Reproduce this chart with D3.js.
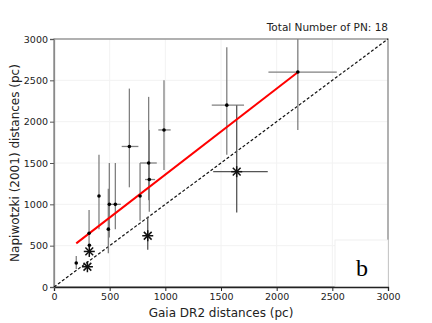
<!DOCTYPE html>
<html>
<head>
  <meta charset="utf-8">
  <title>Gaia vs Napiwotzki</title>
  <script src="https://d3js.org/d3.v7.min.js"></script>
  <style>
    body { margin: 0; background: #fff; }
    svg { display: block; font-family: "DejaVu Sans", sans-serif; }
    .err { stroke: #808080; stroke-width: 1.3px; }
  </style>
</head>
<body>
<svg width="432" height="323"></svg>
<script>
  // points with error bars: gaia, napi, x-range, y-range
  const gaia   = [200, 315, 318, 404, 497, 551, 488, 677, 773, 850, 856, 988, 1552, 2190];
  const napi   = [290, 650, 505, 1100, 1000, 1000, 700, 1700, 1100, 1500, 1300, 1900, 2200, 2600];
  const xLow   = [200, 315, 318, 404, 497, 497, 488, 608, 773, 773, 818, 937, 1417, 1926];
  const xHigh  = [200, 315, 318, 404, 497, 600, 488, 758, 773, 923, 908, 1048, 1707, 2540];
  const yLow   = [218, 490, 505, 700, 600, 700, 408, 1206, 800, 1050, 910, 1415, 1600, 1900];
  const yHigh  = [375, 930, 505, 1600, 1500, 1500, 1190, 2400, 1500, 2300, 1900, 2500, 2900, 3000];

  // asterisk objects
  const starGaia  = [300, 317, 842, 1641];
  const starNapi  = [245, 430, 620, 1395];
  const starXLow  = [300, 317, 842, 1430];
  const starXHigh = [300, 317, 842, 1920];
  const starYLow  = [245, 430, 450, 900];
  const starYHigh = [245, 430, 850, 2200];

  const ticks = [0, 500, 1000, 1500, 2000, 2500, 3000];
  const fitX = [200, 2190];
  const slope = 1.04, intercept = 320;

  const svg = d3.select('svg');
  const mLeft = 54, mRight = 388, mTop = 39, mBottom = 287;

  const x = d3.scaleLinear().domain([0, 3000]).range([mLeft, mRight]);
  const y = d3.scaleLinear().domain([0, 3000]).range([mBottom, mTop]);

  // faint grid
  const grid = svg.append('g');
  grid.selectAll('.gx').data(ticks).enter().append('line')
    .attr('x1', d => x(d)).attr('x2', d => x(d))
    .attr('y1', mTop).attr('y2', mBottom)
    .attr('stroke', '#f2f2f2');
  grid.selectAll('.gy').data(ticks).enter().append('line')
    .attr('y1', d => y(d)).attr('y2', d => y(d))
    .attr('x1', mLeft).attr('x2', mRight)
    .attr('stroke', '#f2f2f2');

  // frame (gray top/right/left)
  svg.append('rect')
    .attr('x', mLeft).attr('y', mTop)
    .attr('width', mRight - mLeft).attr('height', mBottom - mTop)
    .attr('fill', 'none').attr('stroke', '#8a8a8a').attr('stroke-width', 1.3);

  // box around panel letter
  svg.append('rect')
    .attr('x', 335).attr('y', 240).attr('width', mRight - 335).attr('height', mBottom - 240)
    .attr('fill', '#fff').attr('stroke', '#ececec').attr('stroke-width', 0.8);

  svg.append('text')
    .attr('x', 362).attr('y', 276)
    .attr('text-anchor', 'middle')
    .attr('font-family', '"Liberation Serif", "DejaVu Serif", serif')
    .attr('font-size', 24)
    .text('b');

  // axes
  const xAxis = svg.append('g')
    .attr('transform', `translate(0,${mBottom})`)
    .call(d3.axisBottom(x).tickValues(ticks).tickSize(4).tickPadding(2).tickFormat(d3.format('d')));
  xAxis.select('.domain').attr('stroke', '#222').attr('stroke-width', 1.3);
  xAxis.selectAll('text').attr('font-size', 9.5).attr('fill', '#222').attr('font-family', '"DejaVu Sans", sans-serif');
  xAxis.selectAll('line').attr('stroke', '#222');

  const yAxis = svg.append('g')
    .attr('transform', `translate(${mLeft},0)`)
    .call(d3.axisLeft(y).tickValues(ticks).tickSize(4).tickPadding(2).tickFormat(d3.format('d')));
  yAxis.select('.domain').attr('stroke', '#8a8a8a').attr('stroke-width', 1.3);
  yAxis.selectAll('text').attr('font-size', 9.5).attr('fill', '#222').attr('font-family', '"DejaVu Sans", sans-serif');
  yAxis.selectAll('line').attr('stroke', '#555');

  // one-to-one line
  svg.append('line')
    .attr('x1', x(0)).attr('y1', y(0))
    .attr('x2', x(3000)).attr('y2', y(3000))
    .attr('stroke', '#111').attr('stroke-width', 1.2)
    .attr('stroke-dasharray', '3,2');

  // error bars
  const eb = svg.append('g');
  gaia.forEach((g, i) => {
    eb.append('line').attr('class', 'err')
      .attr('x1', x(g)).attr('x2', x(g))
      .attr('y1', y(yLow[i])).attr('y2', y(yHigh[i]));
    eb.append('line').attr('class', 'err')
      .attr('x1', x(xLow[i])).attr('x2', x(xHigh[i]))
      .attr('y1', y(napi[i])).attr('y2', y(napi[i]));
  });
  starGaia.forEach((g, i) => {
    eb.append('line').attr('class', 'err').style('stroke', '#555')
      .attr('x1', x(g)).attr('x2', x(g))
      .attr('y1', y(starYLow[i])).attr('y2', y(starYHigh[i]));
    eb.append('line').attr('class', 'err').style('stroke', '#555')
      .attr('x1', x(starXLow[i])).attr('x2', x(starXHigh[i]))
      .attr('y1', y(starNapi[i])).attr('y2', y(starNapi[i]));
  });

  // fit line
  svg.append('line')
    .attr('x1', x(fitX[0])).attr('y1', y(slope * fitX[0] + intercept))
    .attr('x2', x(fitX[1])).attr('y2', y(slope * fitX[1] + intercept))
    .attr('stroke', '#ff0000').attr('stroke-width', 2);

  // points
  svg.append('g').selectAll('circle')
    .data(gaia).enter().append('circle')
    .attr('cx', d => x(d))
    .attr('cy', (d, i) => y(napi[i]))
    .attr('r', 1.8)
    .attr('fill', '#000');

  // asterisks
  const r = 5.5;
  const arms = [0, 45, 90, 135];
  const stars = svg.append('g').selectAll('g')
    .data(starGaia).enter().append('g')
    .attr('transform', (d, i) => `translate(${x(d)},${y(starNapi[i])})`);
  arms.forEach(a => {
    const rad = a * Math.PI / 180;
    stars.append('line')
      .attr('x1', -r * Math.cos(rad)).attr('y1', -r * Math.sin(rad))
      .attr('x2', r * Math.cos(rad)).attr('y2', r * Math.sin(rad))
      .attr('stroke', '#111').attr('stroke-width', 1.5);
  });

  // texts
  svg.append('text')
    .attr('x', mRight).attr('y', 31)
    .attr('text-anchor', 'end')
    .attr('font-size', 10.5).attr('fill', '#222')
    .text('Total Number of PN: 18');

  svg.append('text')
    .attr('x', (mLeft + mRight) / 2).attr('y', 317)
    .attr('text-anchor', 'middle')
    .attr('font-size', 12).attr('fill', '#222')
    .text('Gaia DR2 distances (pc)');

  svg.append('text')
    .attr('transform', `translate(19,${(mTop + mBottom) / 2}) rotate(-90)`)
    .attr('text-anchor', 'middle')
    .attr('font-size', 12).attr('fill', '#222')
    .text('Napiwotzki (2001) distances (pc)');
</script>
</body>
</html>
